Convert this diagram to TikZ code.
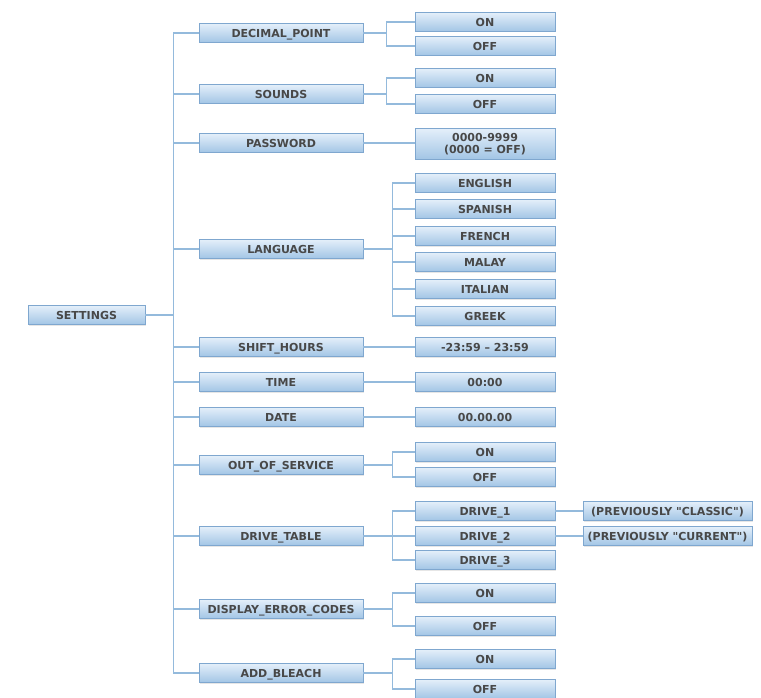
\documentclass[tikz,border=0pt]{standalone}
\usepackage{fontspec}
\setmainfont{DejaVu Sans}
\usetikzlibrary{positioning, shadows}
\definecolor{boxline}{HTML}{7FA7CF}
\definecolor{boxtop}{HTML}{E4EFFA}
\definecolor{boxbot}{HTML}{A2C5E5}
\definecolor{linkcol}{HTML}{94BADC}
\definecolor{boxtext}{HTML}{484848}
\tikzset{
    menu box/.style={rectangle, draw=boxline, line width=0.9pt, top color=boxtop, bottom color=boxbot,
        minimum width=164pt, minimum height=19pt, inner sep=1pt, text=boxtext, text depth=0pt,
        font=\bfseries\fontsize{11}{12}\selectfont,
        drop shadow={opacity=0.2, shadow xshift=0.8pt, shadow yshift=-1pt}},
    option box/.style={menu box, minimum width=140pt},
    note box/.style={menu box, minimum width=169pt},
    root box/.style={menu box, minimum width=117pt},
    link/.style={draw=linkcol, line width=1.4pt},
}

\begin{document}
\begin{tikzpicture}[x=1pt, y=-1pt]
    \useasboundingbox (0,0) rectangle (761,698);
    % root
    \node[root box] (settings) at (86.5,315) {SETTINGS};
    % first level
    \node[menu box] (dec)    at (281,33)  {DECIMAL\_POINT};
    \node[menu box] (snd)    at (281,94)  {SOUNDS};
    \node[menu box] (pwd)    at (281,143) {PASSWORD};
    \node[menu box] (lang)   at (281,249) {LANGUAGE};
    \node[menu box] (shift)  at (281,347) {SHIFT\_HOURS};
    \node[menu box] (time)   at (281,382) {TIME};
    \node[menu box] (date)   at (281,417) {DATE};
    \node[menu box] (oos)    at (281,465) {OUT\_OF\_SERVICE};
    \node[menu box] (drive)  at (281,536) {DRIVE\_TABLE};
    \node[menu box] (disp)   at (281,609) {DISPLAY\_ERROR\_CODES};
    \node[menu box] (bleach) at (281,673) {ADD\_BLEACH};
    % second level
    \node[option box] (decon)   at (485,22)  {ON};
    \node[option box] (decoff)  at (485,46)  {OFF};
    \node[option box] (sndon)   at (485,78)  {ON};
    \node[option box] (sndoff)  at (485,104) {OFF};
    \node[option box, minimum height=31pt, align=center, text depth=] (pwdval) at (485,144) {0000-9999\\(0000 = OFF)};
    \node[option box] (eng)     at (485,183) {ENGLISH};
    \node[option box] (spa)     at (485,209) {SPANISH};
    \node[option box] (fre)     at (485,236) {FRENCH};
    \node[option box] (mal)     at (485,262) {MALAY};
    \node[option box] (ita)     at (485,289) {ITALIAN};
    \node[option box] (gre)     at (485,316) {GREEK};
    \node[option box] (shiftval) at (485,347) {-23:59 – 23:59};
    \node[option box] (timeval) at (485,382) {00:00};
    \node[option box] (dateval) at (485,417) {00.00.00};
    \node[option box] (ooson)   at (485,452) {ON};
    \node[option box] (oosoff)  at (485,477) {OFF};
    \node[option box] (drv1)    at (485,511) {DRIVE\_1};
    \node[option box] (drv2)    at (485,536) {DRIVE\_2};
    \node[option box] (drv3)    at (485,560) {DRIVE\_3};
    \node[option box] (dispon)  at (485,593) {ON};
    \node[option box] (dispoff) at (485,626) {OFF};
    \node[option box] (bleachon)  at (485,659) {ON};
    \node[option box] (bleachoff) at (485,689) {OFF};
    % third level
    \node[note box] (drv1note) at (667.5,511) {(PREVIOUSLY \textquotedbl CLASSIC\textquotedbl)};
    \node[note box] (drv2note) at (667.5,536) {(PREVIOUSLY \textquotedbl CURRENT\textquotedbl)};

    % connectors
    \foreach \n in {dec,snd,pwd,lang,shift,time,date,oos,drive,disp,bleach}
        \draw[link] (settings.east) -- ++(28,0) |- (\n.west);
    \foreach \a/\b in {dec/decon,dec/decoff,snd/sndon,snd/sndoff}
        \draw[link] (\a.east) -- ++(23,0) |- (\b.west);
    \foreach \a/\b in {lang/eng,lang/spa,lang/fre,lang/mal,lang/ita,lang/gre,
        oos/ooson,oos/oosoff,drive/drv1,drive/drv2,drive/drv3,
        disp/dispon,disp/dispoff,bleach/bleachon,bleach/bleachoff}
        \draw[link] (\a.east) -- ++(29,0) |- (\b.west);
    \foreach \a/\b in {pwd/pwdval,shift/shiftval,time/timeval,date/dateval,
        drv1/drv1note,drv2/drv2note}
        \draw[link] (\a.east) -- (\b.west |- \a.east);
\end{tikzpicture}
\end{document}
